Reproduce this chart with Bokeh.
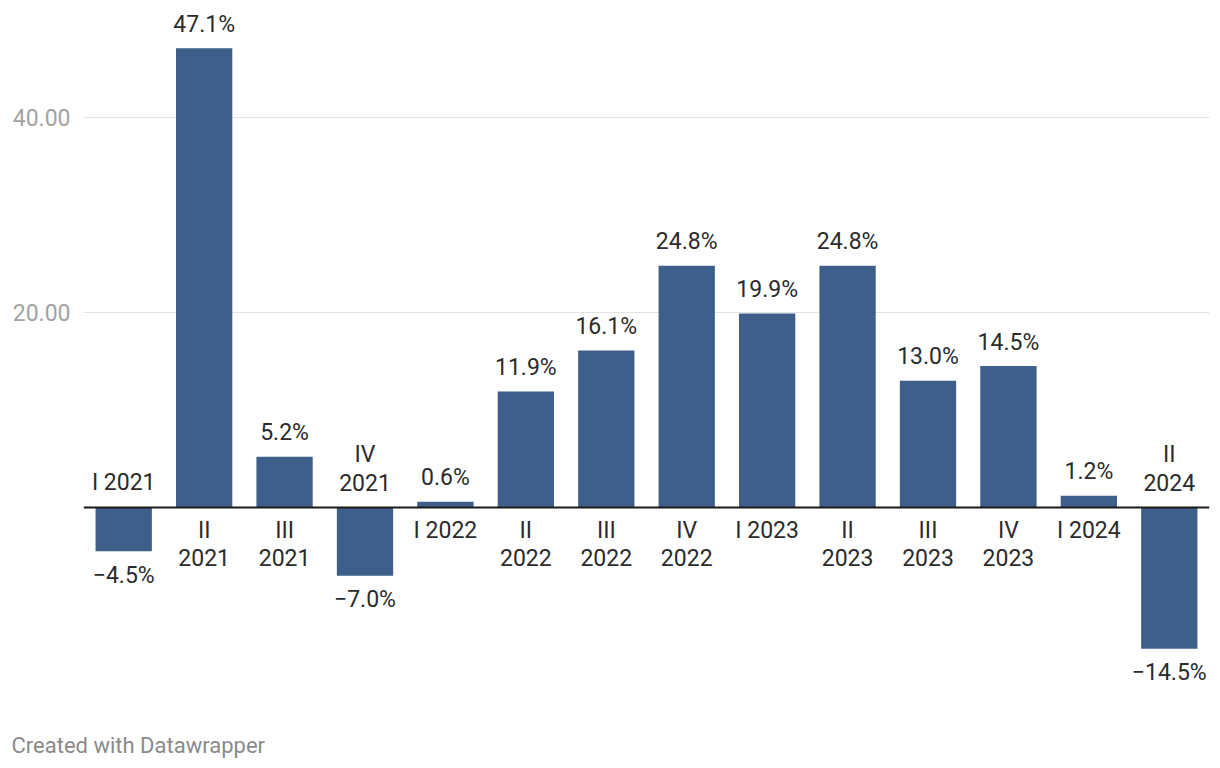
from bokeh.plotting import figure
from bokeh.models import ColumnDataSource, Range1d, FixedTicker, NumeralTickFormatter, Span, Title
from bokeh.core.properties import value
from bokeh.embed import file_html
from bokeh.resources import INLINE

# ---- data ----
quarters = ["I 2021", "II 2021", "III 2021", "IV 2021", "I 2022", "II 2022", "III 2022",
            "IV 2022", "I 2023", "II 2023", "III 2023", "IV 2023", "I 2024", "II 2024"]
growth = [-4.5, 47.1, 5.2, -7.0, 0.6, 11.9, 16.1, 24.8, 19.9, 24.8, 13.0, 14.5, 1.2, -14.5]
y_ticks = [20, 40]
footer = "Created with Datawrapper"

FONT = "Roboto"
BAR = "#3e5f8a"
TXT = "#2b2b2b"

p = figure(width=1220, height=768, x_range=quarters, y_range=Range1d(-21.95, 52),
           output_backend="svg", toolbar_location=None,
           min_border_left=83, min_border_right=11, min_border_top=0, min_border_bottom=46)
p.outline_line_color = None
p.background_fill_color = "white"
p.border_fill_color = "white"
p.xaxis.visible = False
p.xgrid.grid_line_color = None

p.yaxis.ticker = FixedTicker(ticks=y_ticks)
p.yaxis.formatter = NumeralTickFormatter(format="0.00")
p.yaxis.axis_line_color = None
p.yaxis.major_tick_line_color = None
p.yaxis.minor_tick_line_color = None
p.yaxis.major_tick_out = 0
p.yaxis.major_label_standoff = 13
p.yaxis.major_label_text_font = FONT
p.yaxis.major_label_text_font_size = "23px"
p.yaxis.major_label_text_color = "#a3a3a3"
p.ygrid.ticker = FixedTicker(ticks=y_ticks)
p.ygrid.grid_line_color = "#e3e3e3"
p.ygrid.grid_line_width = 1

src = ColumnDataSource(dict(x=quarters, top=growth))
p.vbar(x="x", top="top", bottom=0, width=0.7, source=src, fill_color=BAR, line_color=None)

p.add_layout(Span(location=0, dimension="width", line_color="#1a1a1a", line_width=2))

# value labels
vx, vy, vt, voff = [], [], [], []
for q, g in zip(quarters, growth):
    s = f"{abs(g):.1f}%"
    vx.append(q)
    vy.append(g)
    vt.append(("\u2212" + s) if g < 0 else s)
    voff.append(24 if g < 0 else -24)
p.text(x="x", y="y", text="t", y_offset="off",
       source=ColumnDataSource(dict(x=vx, y=vy, t=vt, off=voff)),
       text_font=value(FONT), text_font_size="23px", text_color=TXT,
       text_align="center", text_baseline="middle")

# category labels
cx, ct, coff = [], [], []
for q, g in zip(quarters, growth):
    qtr, yr = q.split(" ")
    lines = [q] if qtr == "I" else [qtr, yr]
    if g >= 0:
        offs = [23 + 27.5 * i for i in range(len(lines))]
    else:
        offs = [-25 - 28 * (len(lines) - 1 - i) for i in range(len(lines))]
    for ln, o in zip(lines, offs):
        cx.append(q)
        ct.append(ln)
        coff.append(o)
p.text(x="x", y=0, text="t", y_offset="off",
       source=ColumnDataSource(dict(x=cx, t=ct, off=coff)),
       text_font=value(FONT), text_font_size="23px", text_color=TXT,
       text_align="center", text_baseline="middle")

p.add_layout(Title(text=footer, align="left", offset=-72, standoff=20,
                   vertical_align="middle",
                   text_font=FONT, text_font_size="22px", text_color="#8a8a8a",
                   text_font_style="normal"), "below")

open("out.html", "w").write(file_html(p, INLINE))
